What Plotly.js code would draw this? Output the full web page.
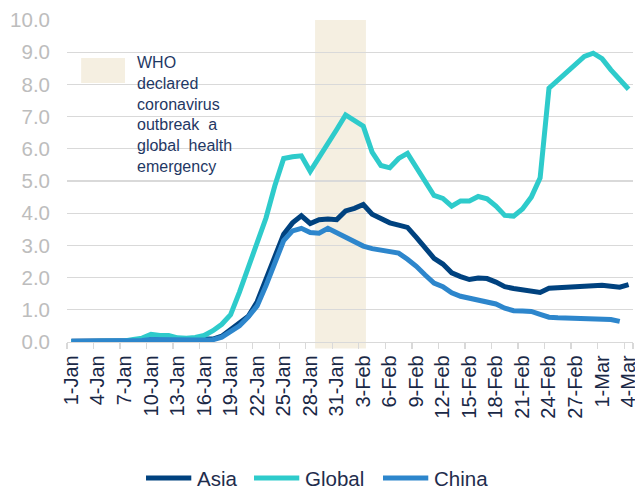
<!DOCTYPE html>
<html>
<head>
<meta charset="utf-8">
<script src="https://cdn.plot.ly/plotly-3.0.1.min.js"></script>
<style>
  html, body { margin: 0; padding: 0; background: #fff; }
  #chart { width: 635px; height: 488px; }
</style>
</head>
<body>
<div id="chart"></div>
<script>
// Days, 1-Jan to 4-Mar 2020
const days = [
  '1-Jan','2-Jan','3-Jan','4-Jan','5-Jan','6-Jan','7-Jan','8-Jan','9-Jan','10-Jan',
  '11-Jan','12-Jan','13-Jan','14-Jan','15-Jan','16-Jan','17-Jan','18-Jan','19-Jan','20-Jan',
  '21-Jan','22-Jan','23-Jan','24-Jan','25-Jan','26-Jan','27-Jan','28-Jan','29-Jan','30-Jan',
  '31-Jan','1-Feb','2-Feb','3-Feb','4-Feb','5-Feb','6-Feb','7-Feb','8-Feb','9-Feb',
  '10-Feb','11-Feb','12-Feb','13-Feb','14-Feb','15-Feb','16-Feb','17-Feb','18-Feb','19-Feb',
  '20-Feb','21-Feb','22-Feb','23-Feb','24-Feb','25-Feb','26-Feb','27-Feb','28-Feb','29-Feb',
  '1-Mar','2-Mar','3-Mar','4-Mar'
];

// Labelled ticks (every third day)
const tickDays = [
  '1-Jan','4-Jan','7-Jan','10-Jan','13-Jan','16-Jan','19-Jan','22-Jan','25-Jan','28-Jan',
  '31-Jan','3-Feb','6-Feb','9-Feb','12-Feb','15-Feb','18-Feb','21-Feb','24-Feb','27-Feb',
  '1-Mar','4-Mar'
];

const asia = [
  0.02, 0.02, 0.02, 0.02, 0.02, 0.02, 0.02, 0.04, 0.06, 0.10,
  0.09, 0.09, 0.07, 0.06, 0.06, 0.07, 0.09, 0.18, 0.38, 0.58,
  0.80, 1.25, 1.90, 2.65, 3.35, 3.70, 3.92, 3.68, 3.80, 3.82,
  3.80, 4.07, 4.15, 4.27, 3.97, 3.83, 3.70, 3.63, 3.56, 3.25,
  2.95, 2.60, 2.42, 2.15, 2.03, 1.94, 1.99, 1.97, 1.86, 1.72,
  1.66, 1.62, 1.60, 1.54, 1.67, 1.69, 1.71, 1.72, 1.75, 1.77,
  1.76, 1.73, 1.70, 1.78
];

const global = [
  0.01, 0.01, 0.01, 0.01, 0.01, 0.01, 0.03, 0.08, 0.12, 0.24,
  0.20, 0.20, 0.13, 0.12, 0.14, 0.20, 0.35, 0.55, 0.85, 1.55,
  2.35, 3.10, 3.85, 4.85, 5.70, 5.75, 5.78, 5.30, 5.72, 6.17,
  6.60, 7.05, 6.88, 6.70, 5.90, 5.48, 5.41, 5.70, 5.86, 5.40,
  4.98, 4.55, 4.46, 4.22, 4.38, 4.38, 4.52, 4.45, 4.22, 3.93,
  3.91, 4.13, 4.50, 5.10, 7.88, 8.14, 8.40, 8.65, 8.87, 8.97,
  8.80, 8.45, 8.12, 7.85
];

// China series stops at 3-Mar
const china = [
  0.02, 0.02, 0.02, 0.02, 0.02, 0.02, 0.02, 0.03, 0.05, 0.08,
  0.07, 0.07, 0.06, 0.06, 0.06, 0.06, 0.07, 0.15, 0.32, 0.50,
  0.78, 1.12, 1.75, 2.50, 3.15, 3.45, 3.53, 3.40, 3.38, 3.53,
  3.40, 3.27, 3.10, 2.98, 2.90, 2.86, 2.83, 2.76, 2.57, 2.35,
  2.08, 1.83, 1.72, 1.53, 1.42, 1.35, 1.30, 1.25, 1.18, 1.05,
  0.97, 0.96, 0.95, 0.86, 0.77, 0.75, 0.74, 0.74, 0.74, 0.74,
  0.73, 0.70, 0.64
];

const seriesNames = ['Asia', 'Global', 'China'];
const seriesColors = ['#00427f', '#2ecbcb', '#2d86cc'];

// WHO emergency declaration period (category positions)
const whoBand = [27.55, 33.3];
const whoText = 'WHO<br>declared<br>coronavirus<br>outbreak  a<br>global  health<br>emergency';

const font = 'Liberation Sans, Arial, sans-serif';
const bandColor = '#f5efe1';

const seriesData = [asia, global, china];
const traces = seriesData.map((vals, i) => ({
  x: days.slice(0, vals.length),
  y: vals,
  name: seriesNames[i],
  type: 'scatter',
  mode: 'lines',
  line: { color: seriesColors[i], width: 5 }
}));

// Legend drawn by hand so the line samples are as long as in the original
const legendY = -0.4224;
const legendX = [0.1396, 0.3304, 0.5583];
const legendShapes = seriesNames.map((n, i) => ({
  type: 'line', xref: 'paper', yref: 'paper',
  x0: legendX[i], x1: legendX[i] + 0.08, y0: legendY, y1: legendY,
  line: { color: seriesColors[i], width: 5 }
}));
const legendLabels = seriesNames.map((n, i) => ({
  xref: 'paper', yref: 'paper', x: legendX[i] + 0.086, y: legendY,
  xanchor: 'left', yanchor: 'middle', showarrow: false, text: n,
  font: { size: 20.5, color: '#1f2d4d', family: font }
}));

const layout = {
  width: 635,
  height: 488,
  margin: { l: 67, r: 2, t: 20, b: 146 },
  paper_bgcolor: '#fff',
  plot_bgcolor: '#fff',
  font: { family: font, color: '#1f2d4d' },
  showlegend: false,
  xaxis: {
    type: 'category',
    categoryorder: 'array',
    categoryarray: days,
    range: [-0.5, days.length - 0.5],
    tickmode: 'array',
    tickvals: tickDays,
    ticktext: tickDays,
    tickson: 'boundaries',
    tickangle: -90,
    ticks: 'outside', ticklen: 6, tickwidth: 1.3, tickcolor: '#d9d9d9',
    ticklabelstandoff: 4,
    showgrid: false,
    showline: true, linecolor: '#d9d9d9', linewidth: 1.3,
    tickfont: { size: 20, color: '#1a2846' },
    automargin: false,
    fixedrange: true
  },
  yaxis: {
    range: [0, 10],
    dtick: 1,
    tickformat: '.1f',
    showgrid: true, gridcolor: '#d9d9d9', gridwidth: 1.3,
    zeroline: false,
    ticks: '',
    ticklabelstandoff: 16,
    tickfont: { size: 20.5, color: '#bdbdbd' },
    automargin: false,
    fixedrange: true
  },
  shapes: [
    { type: 'rect', xref: 'x', yref: 'paper', x0: whoBand[0], x1: whoBand[1], y0: -0.02, y1: 1,
      fillcolor: bandColor, line: { width: 0 }, layer: 'below' },
    { type: 'rect', xref: 'paper', yref: 'paper', x0: 0.025, x1: 0.1025, y0: 0.804, y1: 0.882,
      fillcolor: bandColor, line: { width: 0 }, layer: 'above' }
  ].concat(legendShapes),
  annotations: [
    { xref: 'paper', yref: 'paper', x: 0.12, y: 0.9, xanchor: 'left', yanchor: 'top',
      text: whoText, showarrow: false, align: 'left',
      font: { size: 16, color: '#1f3864', family: font } }
  ].concat(legendLabels)
};

Plotly.newPlot('chart', traces, layout, { displayModeBar: false, staticPlot: true });
</script>
</body>
</html>
